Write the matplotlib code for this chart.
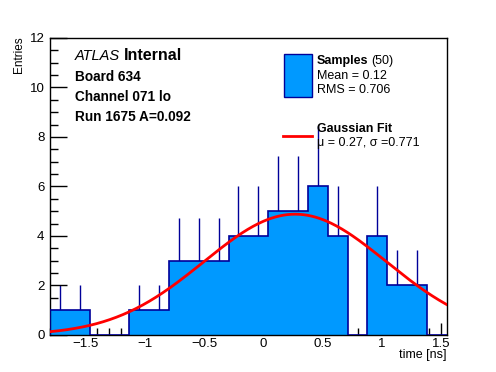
import numpy as np
import matplotlib
matplotlib.use('Agg')
import matplotlib.pyplot as plt
from matplotlib.ticker import MultipleLocator

plt.rcParams['font.family'] = ['Liberation Sans', 'DejaVu Sans']

# histogram: 20 bins between x_lo and x_hi
x_lo = -1.8
x_hi = 1.55
counts = [1, 1, 0, 0, 1, 1, 3, 3, 3, 4, 4, 5, 5, 6, 4, 0, 4, 2, 2, 0]
n_samples = 50
mean_txt = 'Mean = 0.12'
rms_txt = 'RMS = 0.706'
info_lines = ['Board 634', 'Channel 071 lo', 'Run 1675 A=0.092']

# gaussian fit parameters
fit_amp = 4.88
fit_mu = 0.27
fit_sigma = 0.771

edges = np.linspace(x_lo, x_hi, len(counts) + 1)
centers = 0.5 * (edges[:-1] + edges[1:])
counts = np.array(counts, dtype=float)

fig = plt.figure(figsize=(4.96, 3.72), dpi=100)
ax = fig.add_axes([0.1008, 0.0995, 0.7998, 0.7985])

fill = '#0099ff'
edge = '#000099'

# error bars (only upper half shows above the filled bars)
nz = counts > 0
ax.vlines(centers[nz], counts[nz] - np.sqrt(counts[nz]),
          counts[nz] + np.sqrt(counts[nz]), color=edge, lw=1, zorder=1)
ax.stairs(counts, edges, fill=True, color=fill, zorder=2)
ax.stairs(counts, edges, color=edge, lw=1.2, zorder=3)

xs = np.linspace(x_lo, x_hi, 300)
ax.plot(xs, fit_amp * np.exp(-(xs - fit_mu) ** 2 / (2 * fit_sigma ** 2)),
        color='#ff0000', lw=2, zorder=4)

ax.set_xlim(x_lo, x_hi)
ax.set_ylim(0, 12)
ax.xaxis.set_major_locator(MultipleLocator(0.5))
ax.xaxis.set_minor_locator(MultipleLocator(0.1))
ax.yaxis.set_major_locator(MultipleLocator(2))
ax.yaxis.set_minor_locator(MultipleLocator(0.5))
ax.tick_params(which='major', direction='in', length=9, width=1, labelsize=9.5, pad=2)
ax.tick_params(which='minor', direction='in', length=5, width=1)
ax.tick_params(axis='y', which='major', length=12, pad=4)
ax.tick_params(axis='y', which='minor', length=6)
ax.xaxis.set_major_formatter(plt.FuncFormatter(lambda v, p: ('%g' % v).replace('-', '\u2212')))
for s in ax.spines.values():
    s.set_linewidth(1)

# pixel-coordinate overlay for the labels
lax = fig.add_axes([0, 0, 1, 1])
lax.set_xlim(0, 496)
lax.set_ylim(372, 0)
lax.axis('off')

lax.text(446.5, 355, 'time [ns]', ha='right', va='center', fontsize=9)
lax.text(19, 36, 'Entries', rotation=90, ha='center', va='top', fontsize=8.5)

renderer = fig.canvas.get_renderer()


def text_after(first, x, y, second, kw1, kw2, gap=0):
    t = lax.text(x, y, first, va='center', **kw1)
    bb = t.get_window_extent(renderer)
    lax.text(x + bb.width + gap, y, second, va='center', **kw2)


text_after('ATLAS', 75, 56, 'Internal', dict(style='italic', fontsize=10.5),
           dict(weight='bold', fontsize=11.5), gap=4)
for i, line in enumerate(info_lines):
    lax.text(75, 77 + 20 * i, line, weight='bold', fontsize=9.8, va='center')

# legend
lax.add_patch(plt.Rectangle((283.5, 53.5), 28, 43, facecolor=fill, edgecolor=edge, lw=1))
lax.plot([283, 312], [136, 136], color='#ff0000', lw=2)
text_after('Samples', 317, 61, '(%d)' % n_samples, dict(weight='bold', fontsize=9),
           dict(fontsize=9), gap=3)
lax.text(317, 76, mean_txt, fontsize=9, va='center')
lax.text(317, 90, rms_txt, fontsize=9, va='center')
lax.text(317, 129, 'Gaussian Fit', weight='bold', fontsize=9, va='center')
lax.text(317, 143, '\u03bc = %.2f, \u03c3 =%.3f' % (fit_mu, fit_sigma), fontsize=9, va='center')

fig.savefig('out.png', dpi=100)
